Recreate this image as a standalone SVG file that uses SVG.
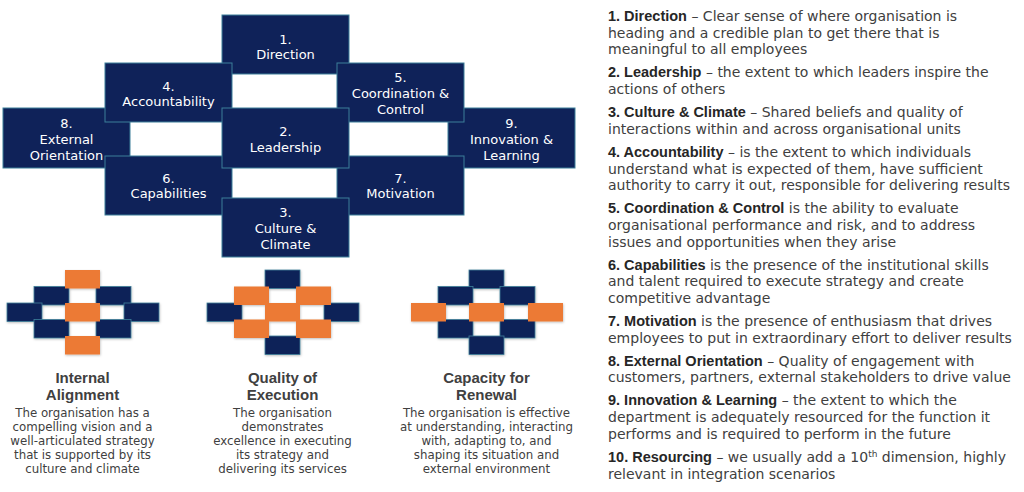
<svg xmlns="http://www.w3.org/2000/svg" width="1024" height="492" viewBox="0 0 1024 492">
<style>
.box{fill:#0f2259;stroke:#3d7f9a;stroke-width:1}
.bt{font-family:"DejaVu Sans",sans-serif;font-size:13px;fill:#ffffff;text-anchor:middle}
.nv{fill:#0f2259;stroke:#3d7f9a;stroke-width:0.8}
.or{fill:#ec7a35}
.st{font-family:"Liberation Sans",Arial,sans-serif;font-weight:bold;font-size:15px;fill:#404040;text-anchor:middle}
.sb{font-family:"DejaVu Sans",sans-serif;font-size:11.8px;fill:#404040;text-anchor:middle}
.rt{font-family:"DejaVu Sans",sans-serif;font-size:14px;fill:#404040}
.b{font-family:"Liberation Sans",Arial,sans-serif;font-weight:bold;font-size:14.5px;fill:#262626}
</style>
<defs>
<filter id="sh" x="-20%" y="-20%" width="140%" height="150%">
<feDropShadow dx="0.5" dy="1" stdDeviation="0.8" flood-color="#000" flood-opacity="0.25"/>
</filter>
</defs>

<g id="node-8"><rect class="box" x="3" y="108" width="127" height="60"/><text class="bt" x="66.5"><tspan x="66.5" y="127.5">8.</tspan><tspan x="66.5" y="143.5">External</tspan><tspan x="66.5" y="159.5">Orientation</tspan></text></g>
<g id="node-9"><rect class="box" x="448" y="108" width="127" height="60"/><text class="bt" x="511.5"><tspan x="511.5" y="127.5">9.</tspan><tspan x="511.5" y="143.5">Innovation &amp;</tspan><tspan x="511.5" y="159.5">Learning</tspan></text></g>
<g id="node-1"><rect class="box" x="222" y="15" width="127" height="59"/><text class="bt"><tspan x="285.5" y="43.5">1.</tspan><tspan x="285.5" y="58.5">Direction</tspan></text></g>
<g id="node-4"><rect class="box" x="105" y="63" width="127" height="59"/><text class="bt"><tspan x="168.5" y="90.5">4.</tspan><tspan x="168.5" y="105.5">Accountability</tspan></text></g>
<g id="node-5"><rect class="box" x="337" y="63" width="127" height="59"/><text class="bt"><tspan x="400.5" y="81.5">5.</tspan><tspan x="400.5" y="97.5">Coordination &amp;</tspan><tspan x="400.5" y="113.5">Control</tspan></text></g>
<g id="node-6"><rect class="box" x="105" y="156" width="127" height="59"/><text class="bt"><tspan x="168.5" y="182.5">6.</tspan><tspan x="168.5" y="197.5">Capabilities</tspan></text></g>
<g id="node-7"><rect class="box" x="337" y="156" width="127" height="59"/><text class="bt"><tspan x="400.5" y="182.5">7.</tspan><tspan x="400.5" y="197.5">Motivation</tspan></text></g>
<g id="node-2"><rect class="box" x="222" y="108" width="127" height="60"/><text class="bt"><tspan x="285.5" y="135.5">2.</tspan><tspan x="285.5" y="151.5">Leadership</tspan></text></g>
<g id="node-3"><rect class="box" x="222" y="198" width="127" height="59"/><text class="bt"><tspan x="285.5" y="216.5">3.</tspan><tspan x="285.5" y="232.5">Culture &amp;</tspan><tspan x="285.5" y="248.5">Climate</tspan></text></g>

<g id="internal-alignment" filter="url(#sh)">
<rect class="nv" x="34" y="286.5" width="35" height="18.5"/>
<rect class="nv" x="96" y="286.5" width="35" height="18.5"/>
<rect class="nv" x="7" y="303" width="35" height="18.5"/>
<rect class="nv" x="124" y="303" width="35" height="18.5"/>
<rect class="nv" x="34" y="319.5" width="35" height="18.5"/>
<rect class="nv" x="96" y="319.5" width="35" height="18.5"/>
<rect class="or" x="65" y="270" width="35" height="18.5"/>
<rect class="or" x="65" y="303" width="35" height="18.5"/>
<rect class="or" x="65" y="336" width="35" height="18.5"/>
</g>
<g id="internal-alignment-text">
<text class="st"><tspan x="82.5" y="382.5">Internal</tspan><tspan x="82.5" y="400">Alignment</tspan></text>
<text class="sb"><tspan x="82.5" y="417">The organisation has a</tspan><tspan x="82.5" y="431">compelling vision and a</tspan><tspan x="82.5" y="445">well-articulated strategy</tspan><tspan x="82.5" y="459">that is supported by its</tspan><tspan x="82.5" y="473">culture and climate</tspan></text>
</g>

<g id="quality-of-execution" filter="url(#sh)">
<rect class="nv" x="265" y="270" width="35" height="18.5"/>
<rect class="nv" x="207" y="303" width="35" height="18.5"/>
<rect class="nv" x="324" y="303" width="35" height="18.5"/>
<rect class="nv" x="265" y="336" width="35" height="18.5"/>
<rect class="or" x="234" y="286.5" width="35" height="18.5"/>
<rect class="or" x="296" y="286.5" width="35" height="18.5"/>
<rect class="or" x="234" y="319.5" width="35" height="18.5"/>
<rect class="or" x="296" y="319.5" width="35" height="18.5"/>
<rect class="or" x="265" y="303" width="35" height="18.5"/>
</g>
<g id="quality-of-execution-text">
<text class="st"><tspan x="282.5" y="382.5">Quality of</tspan><tspan x="282.5" y="400">Execution</tspan></text>
<text class="sb"><tspan x="282.5" y="417">The organisation</tspan><tspan x="282.5" y="431">demonstrates</tspan><tspan x="282.5" y="445">excellence in executing</tspan><tspan x="282.5" y="459">its strategy and</tspan><tspan x="282.5" y="473">delivering its services</tspan></text>
</g>

<g id="capacity-for-renewal" filter="url(#sh)">
<rect class="nv" x="469" y="270" width="35" height="18.5"/>
<rect class="nv" x="438" y="286.5" width="35" height="18.5"/>
<rect class="nv" x="500" y="286.5" width="35" height="18.5"/>
<rect class="nv" x="438" y="319.5" width="35" height="18.5"/>
<rect class="nv" x="500" y="319.5" width="35" height="18.5"/>
<rect class="nv" x="469" y="336" width="35" height="18.5"/>
<rect class="or" x="411" y="303" width="35" height="18.5"/>
<rect class="or" x="469" y="303" width="35" height="18.5"/>
<rect class="or" x="528" y="303" width="35" height="18.5"/>
</g>
<g id="capacity-for-renewal-text">
<text class="st"><tspan x="486.5" y="382.5">Capacity for</tspan><tspan x="486.5" y="400">Renewal</tspan></text>
<text class="sb"><tspan x="486.5" y="417">The organisation is effective</tspan><tspan x="486.5" y="431">at understanding, interacting</tspan><tspan x="486.5" y="445">with, adapting to, and</tspan><tspan x="486.5" y="459">shaping its situation and</tspan><tspan x="486.5" y="473">external environment</tspan></text>
</g>

<g id="definitions">
<text class="rt" x="608" y="21"><tspan class="b">1. Direction</tspan> – Clear sense of where organisation is</text>
<text class="rt" x="608" y="37.7">heading and a credible plan to get there that is</text>
<text class="rt" x="608" y="54.4">meaningful to all employees</text>
<text class="rt" x="608" y="77.4"><tspan class="b">2. Leadership</tspan> – the extent to which leaders inspire the</text>
<text class="rt" x="608" y="94.1">actions of others</text>
<text class="rt" x="608" y="117.1"><tspan class="b">3. Culture &amp; Climate</tspan> – Shared beliefs and quality of</text>
<text class="rt" x="608" y="133.8">interactions within and across organisational units</text>
<text class="rt" x="608" y="156.8"><tspan class="b">4. Accountability</tspan> – is the extent to which individuals</text>
<text class="rt" x="608" y="173.5">understand what is expected of them, have sufficient</text>
<text class="rt" x="608" y="190.2">authority to carry it out, responsible for delivering results</text>
<text class="rt" x="608" y="213.2"><tspan class="b">5. Coordination &amp; Control</tspan> is the ability to evaluate</text>
<text class="rt" x="608" y="229.9">organisational performance and risk, and to address</text>
<text class="rt" x="608" y="246.6">issues and opportunities when they arise</text>
<text class="rt" x="608" y="269.6"><tspan class="b">6. Capabilities</tspan> is the presence of the institutional skills</text>
<text class="rt" x="608" y="286.3">and talent required to execute strategy and create</text>
<text class="rt" x="608" y="303">competitive advantage</text>
<text class="rt" x="608" y="326"><tspan class="b">7. Motivation</tspan> is the presence of enthusiasm that drives</text>
<text class="rt" x="608" y="342.7">employees to put in extraordinary effort to deliver results</text>
<text class="rt" x="608" y="365.7"><tspan class="b">8. External Orientation</tspan> – Quality of engagement with</text>
<text class="rt" x="608" y="382.4">customers, partners, external stakeholders to drive value</text>
<text class="rt" x="608" y="405.4"><tspan class="b">9. Innovation &amp; Learning</tspan> – the extent to which the</text>
<text class="rt" x="608" y="422.1">department is adequately resourced for the function it</text>
<text class="rt" x="608" y="438.8">performs and is required to perform in the future</text>
<text class="rt" x="608" y="461.8"><tspan class="b">10. Resourcing</tspan> – we usually add a 10<tspan dy="-5" font-size="9">th</tspan><tspan dy="5"> dimension, highly</tspan></text>
<text class="rt" x="608" y="478.5">relevant in integration scenarios</text>
</g>
</svg>
